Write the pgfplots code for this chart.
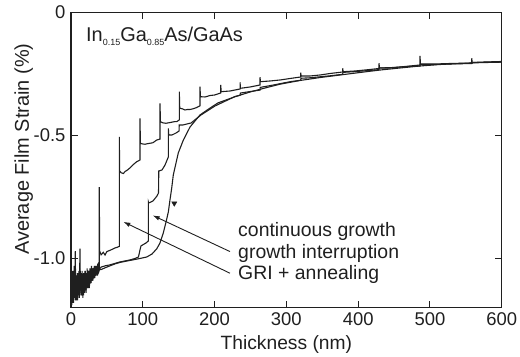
\documentclass[border=0pt]{standalone}
\usepackage{fontspec}
\setmainfont{Liberation Sans}
\usepackage{pgfplots}
\pgfplotsset{compat=1.18}
\usetikzlibrary{arrows.meta}
\definecolor{ink}{gray}{0.12}
\begin{document}
\begin{tikzpicture}
\begin{axis}[
 at={(71bp,49.3bp)}, anchor=south west,
 scale only axis, width=430.7bp, height=295.4bp,
 xmin=0, xmax=600, ymin=-1.2, ymax=0,
 xtick={0,100,200,300,400,500,600},
 ytick={-1,-0.5,0}, yticklabels={-1.0,-0.5,0},
 major tick length=7bp,
 tick style={line width=0.9bp, color=ink},
 axis line style={line width=1.1bp, color=ink},
 /pgf/number format/assume math mode=true,
 ticklabel style={font=\fontsize{18.5}{20}\selectfont, text=ink},
 xticklabel style={yshift=-1bp},
 yticklabel style={xshift=-2bp},
 xlabel={Thickness (nm)},
 ylabel={Average Film Strain (\%)},
 every axis x label/.style={at={(axis description cs:0.5,-0.14)}, anchor=base, font=\fontsize{19.3}{22}\selectfont, text=ink},
 every axis y label/.style={at={(axis description cs:-0.098,0.537)}, rotate=90, anchor=base, font=\fontsize{20}{22}\selectfont, text=ink},
]
% GRI + annealing
\addplot[ink, line width=1.1bp] coordinates {
(0,-1.2)(0.5,-1.04)(1,-1.16)(1.5,-1.06)(2,-1.13)(2.5,-1.05)(3,-1.17)(3.5,-1.08)(4,-1.14)(4.5,-1.03)(5,-1.12)(5.5,-1.09)(6,-0.97)(6.5,-1.15)(7,-1.07)(7.5,-1.13)(8,-1.08)(8.5,-1.16)(9,-1.06)(9.5,-1.12)(10,-1.09)(10.5,-1.15)(11,-1.05)(11.5,-1.11)(12,-1.08)(12.5,-0.96)(13,-1.12)(13.5,-1.07)(14,-1.14)(14.5,-1.09)(15,-1.13)(15.5,-1.05)(16,-1.11)(16.5,-1.08)(17,-1.14)(17.5,-1.06)(18,-1.12)(18.5,-1.09)(19,-1.13)(19.5,-1.05)(20,-1.10)(20.5,-1.07)(21,-1.13)(21.5,-1.06)(22,-1.11)(22.5,-1.04)(23,-1.10)(23.5,-1.07)(24,-1.12)(24.5,-1.05)(25,-1.09)(25.5,-1.06)(26,-1.11)(26.5,-1.04)(27,-1.09)(27.5,-1.06)(28,-1.10)(28.5,-1.03)(29,-1.08)(29.5,-1.05)(30,-1.09)(30.5,-1.04)(31,-1.08)(31.5,-1.05)(32,-1.07)(32.5,-1.03)(33,-1.08)(33.5,-1.04)(34,-1.06)(34.5,-1.03)(35,-1.07)(35.5,-1.04)(36,-1.06)(36.5,-1.03)(37,-1.05)(37.5,-1.04)(38,-1.06)(38.5,-1.03)(39.4,-1.04)
(39.4,-0.71)(39.9,-0.97)(42,-0.985)(45,-0.975)(47.4,-0.986)(50,-0.972)(54.3,-0.967)(58,-0.962)(61.3,-0.957)(64,-0.955)(67.3,-0.951)
(67.3,-0.506)(67.8,-0.645)(70,-0.652)(73,-0.655)(75.2,-0.647)(79,-0.64)(83,-0.63)(87,-0.618)(91.5,-0.607)(96.1,-0.60)
(96.1,-0.4305)(96.7,-0.532)(100,-0.535)(103.1,-0.536)(106,-0.534)(110.1,-0.532)(114,-0.53)(119.4,-0.519)(124.0,-0.515)
(124.0,-0.3696)(124.6,-0.4443)(128,-0.449)(132,-0.4508)(136,-0.449)(140,-0.4467)(144,-0.4443)(147.3,-0.4443)(150.9,-0.437)
(150.9,-0.3225)(151.5,-0.3899)(155,-0.392)(158.8,-0.3968)(162,-0.395)(165.8,-0.3948)(170,-0.392)(174,-0.388)(177.4,-0.3834)(179.7,-0.380)
(179.7,-0.3022)(180.3,-0.3428)(186.7,-0.3440)(193.7,-0.3380)(200,-0.336)(208.6,-0.3278)
(208.6,-0.2953)(209.2,-0.3225)(221.5,-0.3197)(235.5,-0.3115)
(235.5,-0.2843)(236.1,-0.3087)(249.4,-0.3034)(263.3,-0.2953)
(263.3,-0.2640)(263.9,-0.2819)(277.2,-0.2790)(291.2,-0.2750)(305.1,-0.2689)(320.0,-0.2628)
(320.0,-0.2453)(320.6,-0.2587)(333,-0.2587)(346.9,-0.2547)(360.8,-0.2486)(378.5,-0.2425)
(378.5,-0.2275)(379.1,-0.2413)(395.7,-0.2384)(416.6,-0.2323)(429.1,-0.2283)
(429.1,-0.2071)(429.7,-0.2262)(444.4,-0.2262)(465.3,-0.2201)(486.2,-0.2141)
(486.2,-0.1775)(486.8,-0.2100)(507.1,-0.2100)(528,-0.2080)(558.3,-0.2059)
(558.3,-0.1868)(558.9,-0.2039)(576.8,-0.2019)(600,-0.1998)
};
% growth interruption
\addplot[ink, line width=1.1bp] coordinates {
(0,-1.17)(0.5,-1.03)(1,-1.19)(1.5,-1.10)(2,-1.15)(2.5,-1.07)(3,-1.13)(3.5,-1.18)(4,-1.06)(4.5,-1.12)(5,-1.09)(5.5,-1.16)(6,-1.08)(6.5,-1.13)(7,-1.10)(7.5,-1.17)(8,-1.07)(8.5,-1.12)(9,-1.09)(9.5,-1.15)(10,-1.06)(10.5,-1.12)(11,-1.08)(11.5,-1.14)(12,-1.04)(12.5,-1.10)(13,-1.13)(13.5,-1.08)(14,-1.15)(14.5,-1.10)(15,-1.06)(15.5,-1.13)(16,-1.09)(16.5,-1.16)(17,-1.07)(17.5,-1.12)(18,-1.10)(18.5,-1.14)(19,-1.07)(19.5,-1.11)(20,-1.05)(20.5,-1.12)(21,-1.08)(21.5,-1.11)(22,-1.06)(22.5,-1.12)(23,-1.08)(23.5,-1.10)(24,-1.05)(24.5,-1.11)(25,-1.07)(25.5,-1.12)(26,-1.06)(26.5,-1.09)(27,-1.05)(27.5,-1.10)(28,-1.07)(28.5,-1.09)(29,-1.04)(29.5,-1.08)(30,-1.06)(30.5,-1.09)(31,-1.05)(31.5,-1.07)(32,-1.04)(32.5,-1.08)(33,-1.05)(33.5,-1.07)(34,-1.04)(34.5,-1.06)(35,-1.03)(35.5,-1.06)(36,-1.04)(36.5,-1.07)(37,-1.04)(37.5,-1.06)(38,-1.035)(38.5,-1.05)(39,-1.045)
(42,-1.035)(47.4,-1.03)(54.3,-1.026)(61.3,-1.02)(68.3,-1.014)(75.2,-1.01)(82.2,-1.006)(89.2,-1.0)(94.0,-0.994)
(96.1,-0.965)(97.5,-0.949)(104.5,-0.937)(107.7,-0.929)
(107.7,-0.7693)(108.3,-0.7746)(114.2,-0.7665)(119.8,-0.7461)(121.9,-0.734)
(122.3,-0.6446)(126.8,-0.6405)(131,-0.6202)(135.6,-0.5877)
(135.6,-0.4712)(136.2,-0.4984)(140.7,-0.4984)(146.3,-0.4903)(150.5,-0.4822)
(150.8,-0.4577)(156,-0.4577)(167.2,-0.4497)(181.1,-0.4171)(200.6,-0.3806)(228.5,-0.342)(235.5,-0.337)
(236,-0.328)(249.4,-0.322)(263.3,-0.316)(263.6,-0.305)(277.2,-0.298)(291.2,-0.290)(305.1,-0.282)(320.0,-0.276)
(320.3,-0.268)(333,-0.266)(346.9,-0.262)(360.8,-0.258)(378.5,-0.252)(378.8,-0.244)(395.7,-0.241)(416.6,-0.236)(429.1,-0.233)
(429.4,-0.226)(444.4,-0.225)(465.3,-0.221)(486.2,-0.218)(486.5,-0.212)(507.1,-0.212)(528,-0.210)(558.3,-0.208)(558.6,-0.204)(576.8,-0.203)(600,-0.2025)
};
% continuous growth
\addplot[ink, line width=1.1bp] coordinates {
(0,-1.15)(0.5,-1.20)(1,-1.08)(1.5,-1.14)(2,-1.10)(2.5,-1.18)(3,-1.07)(3.5,-1.12)(4,-1.15)(4.5,-1.08)(5,-1.13)(5.5,-1.06)(6,-1.17)(6.5,-1.10)(7,-1.14)(7.5,-1.07)(8,-1.12)(8.5,-1.09)(9,-1.17)(9.5,-1.08)(10,-1.13)(10.5,-1.06)(11,-1.11)(11.5,-1.16)(12,-1.09)(12.5,-1.13)(13,-1.05)(13.5,-1.11)(14,-1.08)(14.5,-1.15)(15,-1.09)(15.5,-1.12)(16,-1.07)(16.5,-1.13)(17,-1.10)(17.5,-1.15)(18,-1.06)(18.5,-1.11)(19,-1.08)(19.5,-1.13)(20,-1.07)(20.5,-1.10)(21,-1.14)(21.5,-1.08)(22,-1.11)(22.5,-1.06)(23,-1.12)(23.5,-1.08)(24,-1.10)(24.5,-1.05)(25,-1.11)(25.5,-1.07)(26,-1.09)(26.5,-1.05)(27,-1.10)(27.5,-1.06)(28,-1.08)(28.5,-1.05)(29,-1.09)(29.5,-1.04)(30,-1.07)(30.5,-1.05)(31,-1.08)(31.5,-1.04)(32,-1.07)(32.5,-1.05)(33,-1.06)(33.5,-1.04)(34,-1.07)(34.5,-1.04)(35,-1.06)(35.5,-1.035)(36,-1.05)(36.5,-1.04)(37,-1.06)(37.5,-1.04)(38,-1.05)(38.5,-1.035)(39,-1.045)
(42,-1.045)(47.4,-1.038)(54.3,-1.03)(61.3,-1.022)(68.3,-1.016)(75.2,-1.012)(82.2,-1.008)(89.2,-1.004)(96.1,-1.0)(105.5,-0.994)(112.8,-0.982)(119.4,-0.961)(124.0,-0.937)(128.6,-0.896)(132.4,-0.852)(135.6,-0.811)(137.9,-0.762)(140.3,-0.714)(142.5,-0.661)(146.3,-0.612)(149.5,-0.571)(156.5,-0.519)(165.8,-0.466)(179.7,-0.417)(193.7,-0.389)(204.8,-0.368)(228.5,-0.343)(249.4,-0.3238)(270.3,-0.3075)(291.2,-0.2920)(319.0,-0.2770)(346.9,-0.2650)(374.8,-0.2547)(402.6,-0.2445)(430.5,-0.2345)(458.4,-0.2262)(486.2,-0.2181)(514.1,-0.2120)(542,-0.2080)(569.8,-0.2045)(600,-0.2025)
};
\addplot[only marks, mark=triangle*, mark size=3bp, mark options={rotate=180, fill=ink, draw=ink}] coordinates {(143.9,-0.776)};
\draw[ink, line width=0.9bp, -{Latex[length=7bp,width=4.5bp]}] (axis cs:221.5,-0.972) -- (axis cs:113.8,-0.825);
\draw[ink, line width=0.9bp, -{Latex[length=7bp,width=4.5bp]}] (axis cs:221.5,-1.060) -- (axis cs:72.9,-0.851);
\node[anchor=base west, inner sep=0pt, font=\fontsize{19.5}{22}\selectfont, text=ink] at (axis cs:232.7,-0.911) {continuous growth};
\node[anchor=base west, inner sep=0pt, font=\fontsize{19.5}{22}\selectfont, text=ink] at (axis cs:232.7,-0.999) {growth interruption};
\node[anchor=base west, inner sep=0pt, font=\fontsize{19.5}{22}\selectfont, text=ink] at (axis cs:232.7,-1.087) {GRI + annealing};
\node[anchor=base west, inner sep=0pt, font=\fontsize{20}{22}\selectfont, text=ink] at (axis cs:20.9,-0.119) {In\raisebox{-4bp}{\fontsize{9}{10}\selectfont 0.15}Ga\raisebox{-4bp}{\fontsize{9}{10}\selectfont 0.85}As/GaAs};
\end{axis}
\pgfresetboundingbox
\path (0,0) rectangle (520bp,357bp);
\end{tikzpicture}
\end{document}
